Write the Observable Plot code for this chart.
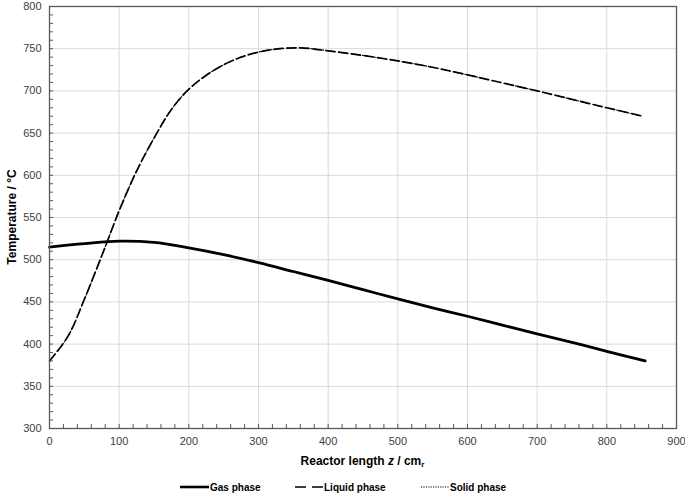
<!DOCTYPE html>
<html>
<head>
<meta charset="utf-8">
<script src="https://cdn.jsdelivr.net/npm/d3@7"></script>
<script src="https://cdn.jsdelivr.net/npm/@observablehq/plot@0.6"></script>
<style>
  html, body { margin: 0; padding: 0; background: #fff; }
  #wrap { width: 685px; height: 495px; position: relative; font-family: "Liberation Sans", Arial, sans-serif; }
  #legend { position: absolute; left: 0; top: 470px; width: 685px; height: 25px; font-size: 10px; font-weight: bold; color: #000; }
  .item { position: absolute; top: 11px; display: flex; align-items: center; white-space: nowrap; }
  .item svg { display: block; margin-right: 1px; }
</style>
</head>
<body>
<div id="wrap"></div>
<script>
// ---- data ----
const zGas = [0, 50, 100, 150, 200, 250, 300, 350, 400, 450, 500, 550, 600, 650, 700, 750, 800, 855];
const tGas = [515, 519, 522, 520.5, 514, 506, 496.5, 486, 475.5, 464.5, 453.5, 443, 433, 422.5, 412, 402, 391.5, 380];

const zLiquid = [0, 27, 50, 78, 100, 125, 150, 175, 200, 225, 250, 275, 300, 325, 360, 400, 450, 500, 550, 600, 650, 700, 750, 800, 852];
const tLiquid = [380, 410, 453, 511, 558, 605, 644, 678, 702, 718.5, 731, 740, 746, 749.5, 751, 747.5, 742, 735.5, 728, 719, 709.5, 700, 690, 680, 670];
const tSolid  = [380, 410, 453, 511, 558, 605, 644, 678, 702, 718.5, 731, 740, 746, 749.5, 751, 747.5, 742, 735.5, 728, 719, 709.5, 700, 690, 680, 670];

const xTicks = [0, 100, 200, 300, 400, 500, 600, 700, 800, 900];
const yTicks = [300, 350, 400, 450, 500, 550, 600, 650, 700, 750, 800];
const xMinor = d3.range(0, 901, 20);
const yMinor = d3.range(300, 801, 10);

const seriesNames = ["Gas phase", "Liquid phase", "Solid phase"];

const gas = zGas.map((z, i) => ({z, t: tGas[i]}));
const liquid = zLiquid.map((z, i) => ({z, t: tLiquid[i]}));
const solid = zLiquid.map((z, i) => ({z, t: tSolid[i]}));

const axisColor = "#595959";
const W = 685, H = 470;

const chart = Plot.plot({
  width: W, height: H,
  marginLeft: 49, marginRight: 9, marginTop: 6, marginBottom: 42,
  style: { fontFamily: "'Liberation Sans', Arial, sans-serif", fontSize: "11px", background: "white", overflow: "visible" },
  x: { domain: [0, 900], label: null },
  y: { domain: [300, 800], label: null },
  marks: [
    Plot.gridX(xTicks, { stroke: "#d9d9d9", strokeOpacity: 1, strokeWidth: 1 }),
    Plot.gridY(yTicks, { stroke: "#d9d9d9", strokeOpacity: 1, strokeWidth: 1 }),
    Plot.axisX(xMinor, { tickSize: 4, dy: -4, fill: "none", stroke: axisColor, label: null }),
    Plot.axisY(yMinor, { tickSize: 4, dx: 4, fill: "none", stroke: axisColor, label: null }),
    Plot.axisX(xTicks, { tickSize: 0, tickPadding: 9, fill: "#404040", label: null, tickFormat: d => d }),
    Plot.axisY(yTicks, { tickSize: 0, tickPadding: 8, fill: "#404040", label: null, tickFormat: d => d }),
    Plot.line(liquid, { x: "z", y: "t", stroke: "#000", strokeWidth: 1.7, strokeDasharray: "9,4", curve: "catmull-rom" }),
    Plot.line(solid, { x: "z", y: "t", stroke: "#000", strokeWidth: 1.1, strokeDasharray: "1,3", curve: "catmull-rom" }),
    Plot.line(gas, { x: "z", y: "t", stroke: "#000", strokeWidth: 2.8, curve: "catmull-rom" }),
    Plot.frame({ stroke: axisColor, strokeWidth: 1.3 })
  ]
});

const svg = d3.select(chart);
// x axis title with italic z and subscript r
const xt = svg.append("text")
  .attr("x", (49 + (W - 9)) / 2).attr("y", 465)
  .attr("text-anchor", "middle")
  .attr("font-size", 12).attr("font-weight", "bold").attr("fill", "#000");
xt.append("tspan").text("Reactor length ");
xt.append("tspan").attr("font-style", "italic").text("z");
xt.append("tspan").text(" / cm");
xt.append("tspan").attr("font-size", 8).attr("dy", 2).text("r");

// y axis title
svg.append("text")
  .attr("transform", `translate(16,${(6 + (H - 42)) / 2}) rotate(-90)`)
  .attr("text-anchor", "middle")
  .attr("font-size", 12).attr("font-weight", "bold").attr("fill", "#000")
  .text("Temperature / °C");

const wrap = document.getElementById("wrap");
wrap.appendChild(chart);

// legend
const legend = document.createElement("div");
legend.id = "legend";
const legendDefs = [
  { name: seriesNames[0], left: 180, w: 29, dash: null, sw: 2.6 },
  { name: seriesNames[1], left: 295, w: 28, dash: "11,6", sw: 1.6 },
  { name: seriesNames[2], left: 421, w: 28, dash: "1.2,1.2", sw: 1.1 }
];
legendDefs.forEach(d => {
  const item = document.createElement("div");
  item.className = "item";
  item.style.left = d.left + "px";
  const s = d3.create("svg").attr("width", d.w).attr("height", 12);
  s.append("line").attr("x1", 0).attr("x2", d.w).attr("y1", 6).attr("y2", 6)
    .attr("stroke", "#000").attr("stroke-width", d.sw)
    .attr("stroke-dasharray", d.dash);
  item.appendChild(s.node());
  const span = document.createElement("span");
  span.textContent = d.name;
  item.appendChild(span);
  legend.appendChild(item);
});
wrap.appendChild(legend);
</script>
</body>
</html>
